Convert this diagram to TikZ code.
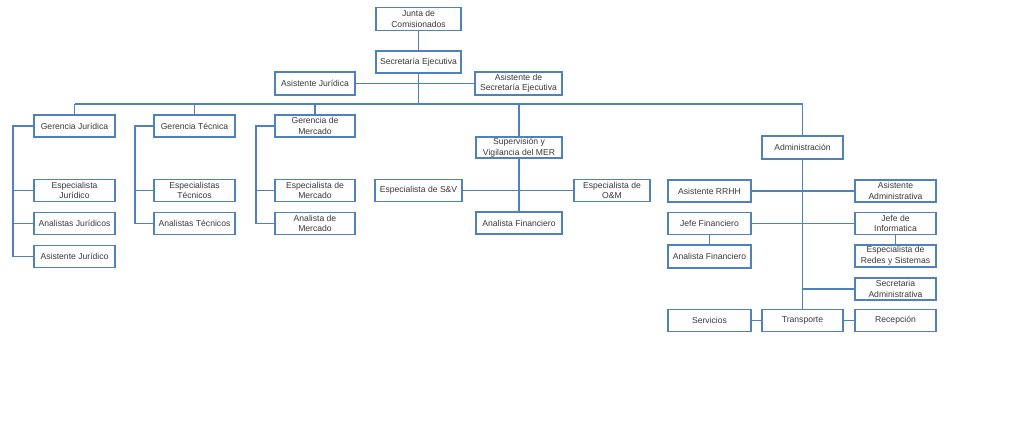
\documentclass[tikz,border=0pt]{standalone}
\usepackage{fontspec}
\setmainfont{Liberation Sans}
\usepackage{tikz}

\definecolor{orgblue}{HTML}{4F81BD}
\definecolor{orgtext}{HTML}{3A3A3A}

\tikzset{
    unit/.style={draw=orgblue, line width=1.3pt, fill=white, text=orgtext,
        minimum width=81pt, minimum height=22pt, inner sep=1pt, align=center,
        font=\fontsize{8.6}{10.5}\selectfont},
    link/.style={draw=orgblue, line width=1.3pt}
}

\begin{document}
\begin{tikzpicture}[x=1pt,y=-1pt]
            \useasboundingbox (0,0) rectangle (1024,435);

            % top of the chart
            \node[unit,minimum width=85pt,minimum height=23pt] (junta) at (418.5,19) {Junta de\\Comisionados};
            \node[unit,minimum width=85pt] (secej) at (418.5,62) {Secretaría Ejecutiva};
            \node[unit,minimum width=80pt,minimum height=23pt] (asisjur) at (315,83.5) {Asistente Jurídica};
            \node[unit,minimum width=87pt,minimum height=23pt] (asissec) at (518.5,83.5) {Asistente de\\Secretaría Ejecutiva};

            % gerencias
            \node[unit] (gerjur) at (74.5,126) {Gerencia Jurídica};
            \node[unit] (gertec) at (194.5,126) {Gerencia Técnica};
            \node[unit,minimum width=80pt] (germer) at (315,126) {Gerencia de\\Mercado};
            \node[unit,minimum width=86pt,minimum height=21pt] (superv) at (519,147.5) {Supervisión y\\Vigilancia del MER};
            \node[unit,minimum height=23pt] (admin) at (802.5,147.5) {Administración};

            \node[unit] (espjur) at (74.5,190.5) {Especialista\\Jurídico};
            \node[unit] (analjur) at (74.5,223.5) {Analistas Jurídicos};
            \node[unit] (asistjur) at (74.5,256.5) {Asistente Jurídico};

            \node[unit] (esptec) at (194.5,190.5) {Especialistas\\Técnicos};
            \node[unit] (analtec) at (194.5,223.5) {Analistas Técnicos};

            \node[unit,minimum width=80pt] (espmer) at (315,190.5) {Especialista de\\Mercado};
            \node[unit,minimum width=80pt] (analmer) at (315,223.5) {Analista de\\Mercado};

            \node[unit,minimum width=87pt] (espsv) at (418.5,190.5) {Especialista de S\&V};
            \node[unit,minimum width=76pt] (espom) at (612,190.5) {Especialista de\\O\&M};
            \node[unit,minimum width=86pt] (analfin) at (519,223) {Analista Financiero};

            % administracion
            \node[unit,minimum width=83pt] (asisrrhh) at (709.5,191) {Asistente RRHH};
            \node[unit] (asisadm) at (895.5,191) {Asistente\\Administrativa};
            \node[unit,minimum width=83pt] (jefefin) at (709.5,223.5) {Jefe Financiero};
            \node[unit] (jefeinf) at (895.5,223.5) {Jefe de\\Informatica};
            \node[unit,minimum width=83pt,minimum height=23pt] (analfinb) at (709.5,256.5) {Analista Financiero};
            \node[unit] (esprs) at (895.5,256) {Especialista de\\Redes y Sistemas};
            \node[unit] (secadm) at (895.5,289) {Secretaria\\Administrativa};
            \node[unit,minimum width=83pt] (serv) at (709.5,320.5) {Servicios};
            \node[unit] (transp) at (802.5,320.5) {Transporte};
            \node[unit] (recep) at (895.5,320.5) {Recepción};

            % lines
            \coordinate (busl) at (74.5,104);
            \coordinate (busr) at (802.5,104);
            \coordinate (gjx) at (13,0);
            \coordinate (gtx) at (135,0);
            \coordinate (gmx) at (256,0);

            \draw[link] (junta) -- (secej);
            \draw[link] (asisjur) -- (asissec);
            \draw[link] (secej) -- (secej |- busl);
            \draw[link] (busl) -- (busr);
            \foreach \g in {gerjur,gertec,germer,superv,admin}
                \draw[link] (\g.north) -- (\g.north |- busl);

            \draw[link] (gerjur.west) -- (gerjur.west -| gjx) -- (asistjur.west -| gjx) -- (asistjur.west);
            \foreach \n in {espjur,analjur}
                \draw[link] (\n.west) -- (\n.west -| gjx);
            \draw[link] (gertec.west) -- (gertec.west -| gtx) -- (analtec.west -| gtx) -- (analtec.west);
            \draw[link] (esptec.west) -- (esptec.west -| gtx);
            \draw[link] (germer.west) -- (germer.west -| gmx) -- (analmer.west -| gmx) -- (analmer.west);
            \draw[link] (espmer.west) -- (espmer.west -| gmx);

            \draw[link] (superv) -- (analfin);
            \draw[link] (espsv) -- (espom);

            \draw[link] (admin) -- (transp);
            \draw[link] (asisrrhh) -- (asisadm);
            \draw[link] (jefefin) -- (jefeinf);
            \draw[link] (jefefin) -- (analfinb);
            \draw[link] (jefeinf) -- (esprs);
            \draw[link] (secadm.west) -- (secadm.west -| admin);
            \draw[link] (serv) -- (transp);
            \draw[link] (transp) -- (recep);
        \end{tikzpicture}
\end{document}
